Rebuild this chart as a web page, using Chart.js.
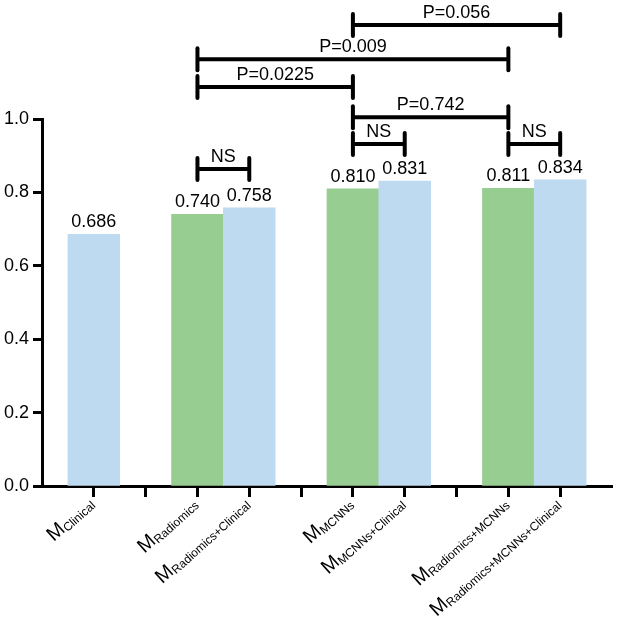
<!DOCTYPE html>
<html>
<head>
<meta charset="utf-8">
<script src="https://cdn.jsdelivr.net/npm/chart.js@4.4.1/dist/chart.umd.min.js"></script>
<style>
  body { margin: 0; background: #fff; }
  #wrap { width: 618px; height: 623px; position: relative; }
</style>
</head>
<body>
<div id="wrap"><canvas id="grafico"></canvas></div>
<script>
// categorias (vazias = espaços entre grupos), o "M" é desenhado antes do subscrito
const categories = ['', 'Clinical', '', 'Radiomics', 'Radiomics+Clinical', '', 'MCNNs', 'MCNNs+Clinical', '', 'Radiomics+MCNNs', 'Radiomics+MCNNs+Clinical', ''];
const aucValues = [null, 0.686, null, 0.740, 0.758, null, 0.810, 0.831, null, 0.811, 0.834, null];
const yTicks = [0.0, 0.2, 0.4, 0.6, 0.8, 1.0];

// comparações (colchetes acima das barras)
const bracketFrom = ['MCNNs', 'Radiomics', 'Radiomics', 'MCNNs', 'MCNNs', 'Radiomics+MCNNs', 'Radiomics'];
const bracketTo = ['Radiomics+MCNNs+Clinical', 'Radiomics+MCNNs', 'MCNNs', 'Radiomics+MCNNs', 'MCNNs+Clinical', 'Radiomics+MCNNs+Clinical', 'Radiomics+Clinical'];
const bracketLevel = [1.256, 1.163, 1.087, 1.005, 0.932, 0.932, 0.864];
const bracketText = ['P=0.056', 'P=0.009', 'P=0.0225', 'P=0.742', 'NS', 'NS', 'NS'];

const FONT = '"Liberation Sans", Arial, sans-serif';
const azul = 'rgb(190, 218, 240)';
const verde = 'rgb(152, 205, 145)';

const extras = {
    id: 'extras',
    afterDraw(chart) {
        const ctx = chart.ctx;
        const x = chart.scales.x;
        const y = chart.scales.y;
        ctx.save();
        ctx.fillStyle = '#000';
        ctx.strokeStyle = '#000';

        // valores acima das barras
        ctx.font = '18px ' + FONT;
        ctx.textAlign = 'center';
        ctx.textBaseline = 'alphabetic';
        aucValues.forEach((v, i) => {
            if (v === null) return;
            ctx.fillText(v.toFixed(3), x.getPixelForValue(i), y.getPixelForValue(v) - 7);
        });

        // colchetes
        bracketText.forEach((txt, k) => {
            const x1 = x.getPixelForValue(categories.indexOf(bracketFrom[k]));
            const x2 = x.getPixelForValue(categories.indexOf(bracketTo[k]));
            const yy = y.getPixelForValue(bracketLevel[k]);
            ctx.lineWidth = 4;
            ctx.lineCap = 'butt';
            ctx.beginPath();
            ctx.moveTo(x1, yy);
            ctx.lineTo(x2, yy);
            ctx.stroke();
            ctx.lineCap = 'round';
            [x1, x2].forEach(px => {
                ctx.beginPath();
                ctx.moveTo(px, yy - 11);
                ctx.lineTo(px, yy + 11);
                ctx.stroke();
            });
            ctx.font = '18px ' + FONT;
            ctx.textAlign = 'center';
            ctx.fillText(txt, (x1 + x2) / 2, yy - 7);
        });

        // rótulos do eixo x: M + subscrito, girados
        categories.forEach((lab, i) => {
            if (!lab) return;
            const px = x.getPixelForValue(i);
            ctx.save();
            ctx.translate(px + 1, x.top + 19);
            ctx.rotate(-42 * Math.PI / 180);
            ctx.textAlign = 'right';
            ctx.font = '12px ' + FONT;
            const w = ctx.measureText(lab).width;
            ctx.fillText(lab, 0, 2);
            ctx.font = '20px ' + FONT;
            ctx.fillText('M', -w, 0);
            ctx.restore();
        });
        ctx.restore();
    }
};

new Chart(document.getElementById('grafico'), {
    type: 'bar',
    data: {
        labels: categories,
        datasets: [{
            data: aucValues,
            backgroundColor: c => categories[c.index].includes('Clinical') ? azul : verde,
            borderWidth: 0,
            barPercentage: 1.0,
            categoryPercentage: 1.0
        }]
    },
    options: {
        responsive: true,
        maintainAspectRatio: false,
        animation: false,
        layout: { padding: { top: 119, right: 6, left: 0, bottom: 0 } },
        plugins: { legend: { display: false }, tooltip: { enabled: false } },
        scales: {
            x: {
                offset: false,
                grid: {
                    offset: false,
                    drawOnChartArea: false,
                    tickLength: 11,
                    tickWidth: 3,
                    tickColor: c => (c.index === 0 || c.index === categories.length - 1) ? 'rgba(0,0,0,0)' : '#000'
                },
                border: { width: 3, color: '#000' },
                ticks: { display: false },
                afterFit: s => { s.height = 137; }
            },
            y: {
                min: 0,
                max: 1,
                afterBuildTicks: s => { s.ticks = yTicks.map(v => ({ value: v })); },
                grid: { drawOnChartArea: false, tickLength: 9, tickWidth: 3, tickColor: '#000' },
                border: { width: 3, color: '#000' },
                ticks: {
                    color: '#000',
                    padding: 4,
                    font: { family: FONT, size: 18 },
                    callback: v => v.toFixed(1)
                },
                afterFit: s => { s.width = 42; }
            }
        }
    },
    plugins: [extras]
});
</script>
</body>
</html>
